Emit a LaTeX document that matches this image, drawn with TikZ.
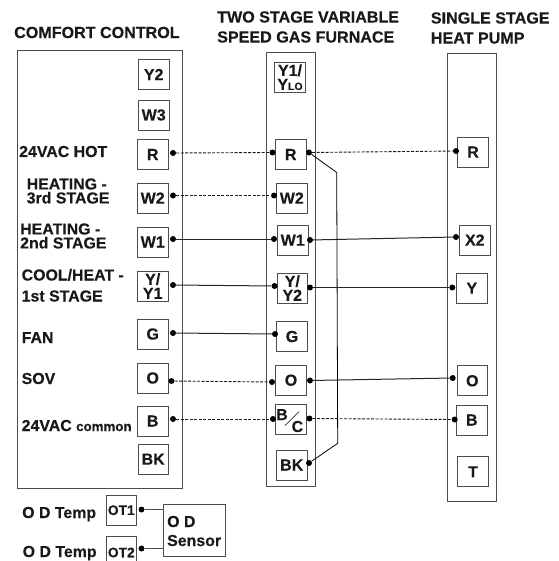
\documentclass[tikz,border=0pt]{standalone}
\usepackage{fontspec}
\setmainfont{Liberation Sans}[BoldFeatures={FakeBold=0.25}]
\begin{document}
\begin{tikzpicture}[x=1pt,y=-1pt,
  lbl/.style={font=\fontsize{15.9}{14}\selectfont\bfseries,inner sep=0pt,text=black!90},
  hdr/.style={font=\fontsize{16.1}{20}\selectfont\bfseries,inner sep=0pt,align=left,anchor=west,text=black!90},
  side/.style={lbl,align=left,anchor=west},
  panel/.style={draw=black!70,line width=1pt,inner sep=0pt,anchor=north west},
  term/.style={draw=black!70,line width=0.9pt,minimum width=30.5pt,minimum height=30pt,inner sep=0pt,align=center,font=\fontsize{16}{14}\selectfont\bfseries,text=black!90},
  dot/.style={circle,fill=black,inner sep=0pt,minimum size=6pt},
  dwire/.style={draw=black!90,line width=0.9pt,dash pattern=on 3pt off 1.5pt},
  swire/.style={draw=black!85,line width=1pt},
  twire/.style={draw=black,line width=0.8pt}]
\useasboundingbox (0,0) rectangle (558,561);
% headers
\node[hdr] (h1) at (14,32.5) {COMFORT CONTROL};
\node[hdr] (h2) at (217,27) {TWO STAGE VARIABLE\\SPEED GAS FURNACE};
\node[hdr] (h3) at (430.7,28) {SINGLE STAGE\\HEAT PUMP};
% panels
\node[panel,minimum width=165pt,minimum height=437pt] (cc) at (17,50.5) {};
\node[panel,minimum width=48.5pt,minimum height=433.5pt] (fu) at (266,52.5) {};
\node[panel,minimum width=49pt,minimum height=447.5pt] (hp) at (447,53) {};
% comfort control terminals
\node[term] (c1) at (153.7,74.5) {Y2};
\node[term] (c2) at (153.7,115) {W3};
\node[term] (cR) at (152.7,154.5) {R};
\node[term] (cW2) at (152.7,198) {W2};
\node[term] (cW1) at (152.7,242) {W1};
\node[term] (cY) at (152.7,286) {Y/\\Y1};
\node[term] (cG) at (152.7,334) {G};
\node[term] (cO) at (152.7,378) {O};
\node[term] (cB) at (152.7,421) {B};
\node[term] (cBK) at (153.2,459.2) {BK};
% furnace terminals
\node[term] (f1) at (290,77.2) {Y1/\\Y{\fontsize{10.5}{12}\selectfont LO}};
\node[term] (fR) at (290.7,154.5) {R};
\node[term] (fW2) at (291.8,198) {W2};
\node[term] (fW1) at (292.7,240.2) {W1};
\node[term] (fY) at (292.3,288) {Y/\\Y2};
\node[term] (fG) at (292,336.5) {G};
\node[term] (fO) at (291,380.2) {O};
\node[term] (fB) at (290.7,419.8) {};
\node[lbl,anchor=base west] (fBb) at (276,420) {B};
\node[lbl,anchor=base west] (fBc) at (291.5,432) {C};
\draw[black!80,line width=0.7pt] (285,425.7) -- (299,411.7);
\node[term] (fBK) at (291.7,465) {BK};
% heat pump terminals
\node[term] (pR) at (473,152) {R};
\node[term] (pX) at (474.8,240) {X2};
\node[term] (pY) at (471.8,288.2) {Y};
\node[term] (pO) at (472.3,380.8) {O};
\node[term] (pB) at (471.8,420) {B};
\node[term] (pT) at (473,471.8) {T};
% side labels
\node[lbl,anchor=base west] (l1) at (19,157) {24VAC HOT};
\node[side] (l2) at (26.5,191) {HEATING -\\3rd STAGE};
\node[side] (l3) at (20,236) {HEATING -\\2nd STAGE};
\node[lbl,anchor=base west] (l4a) at (21.5,280.5) {COOL/HEAT -};
\node[lbl,anchor=base west] (l4b) at (21.5,301.5) {1st STAGE};
\node[lbl,anchor=base west] (l5) at (21.5,343) {FAN};
\node[lbl,anchor=base west] (l6) at (21.5,384) {SOV};
\node[lbl,anchor=base west] (l7) at (21.5,431) {24VAC {\fontsize{13.3}{14}\selectfont common}};
\node[lbl,anchor=base west] (l8) at (22,518) {O D Temp};
\node[lbl,anchor=base west] (l9) at (22.5,557) {O D Temp};
% OD section
\node[term,minimum width=30.5pt,minimum height=30.5pt,font=\fontsize{13.8}{14}\selectfont\bfseries] (ot1) at (121.3,510.2) {OT1};
\coordinate (ot2sw) at (106,561);
\coordinate (ot2nw) at (106,536);
\coordinate (ot2ne) at (136.5,536);
\coordinate (ot2se) at (136.5,561);
\draw[draw=black!70,line width=0.9pt] (ot2sw) -- (ot2nw) -- (ot2ne) -- (ot2se);
\node[lbl,font=\fontsize{13.8}{14}\selectfont\bfseries] (ot2) at (121.3,552.5) {OT2};
\node[term,minimum width=61.5pt,minimum height=51.5pt] (sn) at (194.3,530.2) {};
\node[lbl,anchor=base west] (sn1) at (167,527) {O D};
\node[lbl,anchor=base west] (sn2) at (167,546) {Sensor};
% dots
\foreach \n/\x/\y in {a1/173/153,a2/173/195.5,a3/173/239,a4/173/285,a5/173/333,a6/171.5/381,a7/173/419,
  b1/272.5/152.5,b2/274/195.5,b3/274/239,b4/274.5/286,b5/275/334,b6/272/382,b7/273/419,
  d1/309/152.5,d3/310/240,d4/310/287.5,d6/310/380.5,d7/309.5/418.5,d8/309/463,
  e1/456/151,e3/456/237,e4/452.3/287.5,e6/452.7/378,e7/454.7/419.5,
  o1/141.5/509.5,o2/141.5/548.5}
  {\node[dot] (\n) at (\x,\y) {};}
% wires
\draw[dwire] (a1) -- (b1);
\draw[dwire] (a2) -- (b2);
\draw[swire] (a3) -- (b3);
\draw[swire] (a4) -- (b4);
\draw[swire] (a5) -- (b5);
\draw[dwire] (a6) -- (b6);
\draw[dwire] (a7) -- (b7);
\draw[dwire] (d1) -- (e1);
\draw[swire] (d3) -- (e3);
\draw[swire] (d4) -- (e4);
\draw[swire] (d6) -- (e6);
\draw[dwire] (d7) -- (e7);
\coordinate (k1) at (336.7,172.5);
\coordinate (k2) at (337.7,443.3);
\draw[twire] (d1) -- (k1) -- (k2) -- (d8);
\draw[draw=black!70,line width=0.9pt] (o1) -- (o1-|sn.west);
\draw[draw=black!70,line width=0.9pt] (o2) -- (o2-|sn.west);
\end{tikzpicture}
\end{document}
